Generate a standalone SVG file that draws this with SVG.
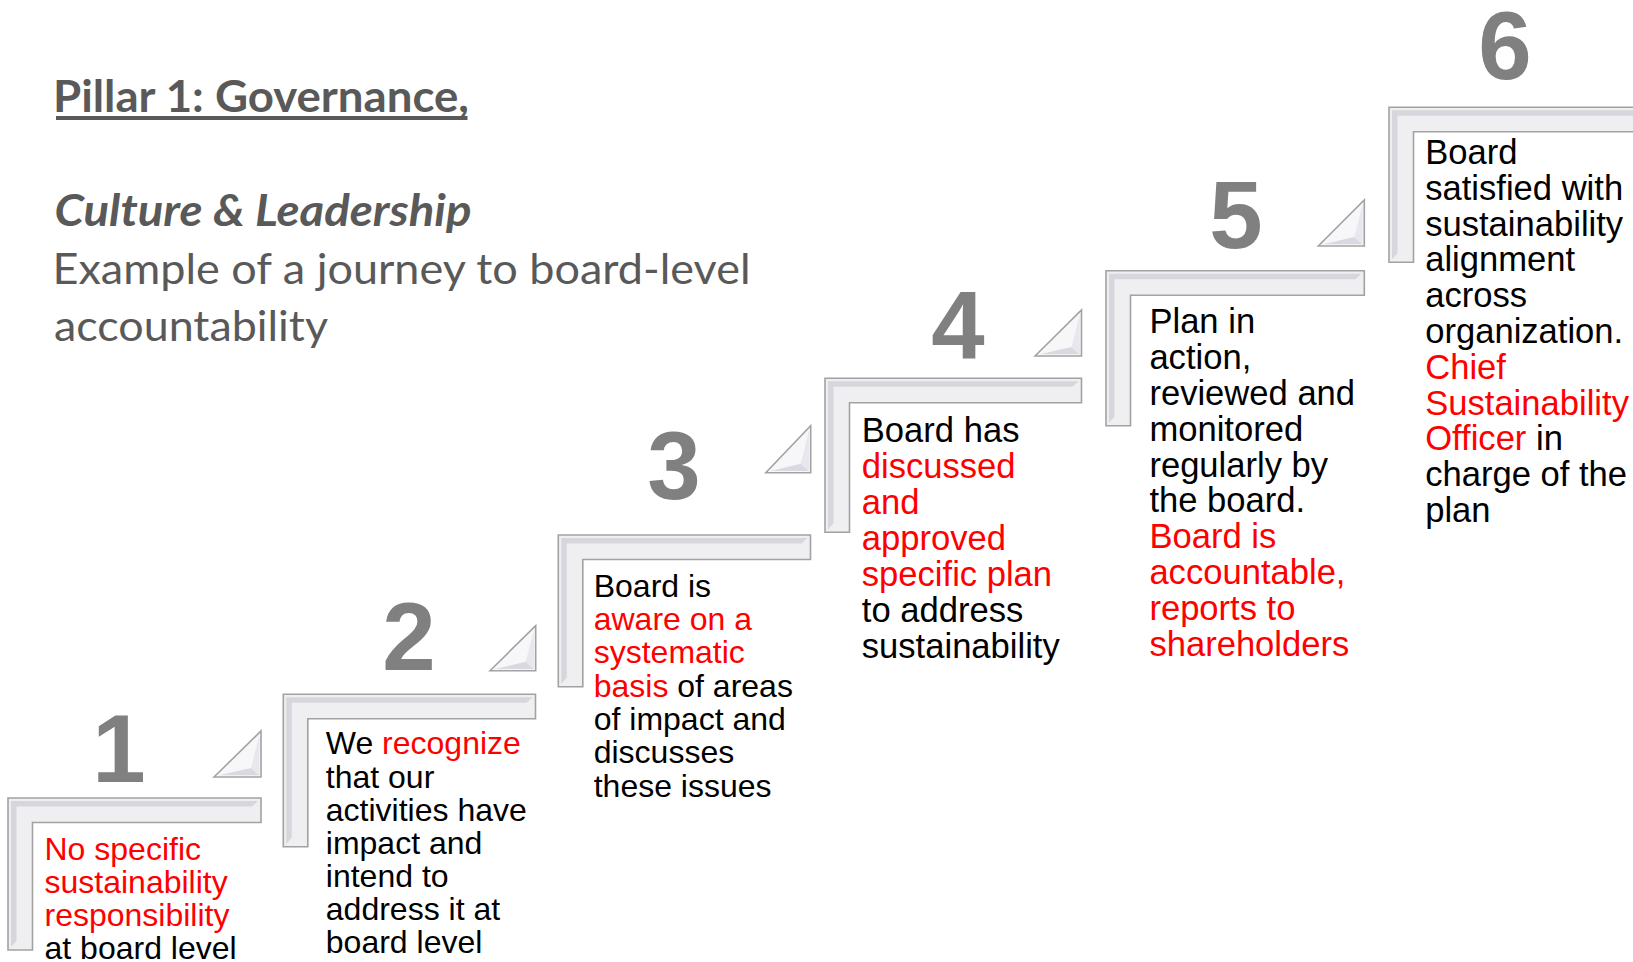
<svg xmlns="http://www.w3.org/2000/svg" width="1633" height="962" viewBox="0 0 1633 962">
<defs>
<style>
.frame{fill:#efeff2;stroke:#a2a2a2;stroke-width:1.6;stroke-linejoin:miter}
.band{fill:#d6d6dc}
.tri{fill:#f7f7f9;stroke:#a2a2a2;stroke-width:1.6;stroke-linejoin:miter}
.facetA{fill:#d9d9e1}
.facetB{fill:#e7e7ee}
.num{font-family:"Liberation Sans",Arial,sans-serif;font-weight:bold;font-size:96px;fill:#808080;text-anchor:middle}
.s{font-family:"Liberation Sans",Arial,sans-serif;font-size:32px;fill:#000}
.m{font-family:"Liberation Sans",Arial,sans-serif;font-size:34.6px;fill:#000}
.r{fill:#ff0000}
.title{font-family:Lato,"Open Sans",sans-serif;font-size:43px;fill:#595959}
</style>
</defs>
<rect width="1633" height="962" fill="#ffffff"/>

<g id="title">
<text class="title" x="53" y="111.7" font-weight="bold" textLength="416" lengthAdjust="spacingAndGlyphs">Pillar 1: Governance,</text>
<rect x="56" y="116" width="411.5" height="4" fill="#595959"/>
<text class="title" x="54.5" y="225.7" font-weight="bold" font-style="italic" textLength="417" lengthAdjust="spacingAndGlyphs">Culture &amp; Leadership</text>
<text class="title" x="52.5" y="283.5" textLength="698" lengthAdjust="spacingAndGlyphs">Example of a journey to board-level</text>
<text class="title" x="54" y="340.5" textLength="274" lengthAdjust="spacingAndGlyphs">accountability</text>
</g>

<g id="connectors"></g>

<g id="step1">
<path class="frame" d="M8 798 H261 V822.5 H32.5 V950 H8 Z"/>
<path class="band" d="M11 801 H258 L252 806.5 H16.5 V941 L11 947 Z"/>
<path class="tri" d="M214 777 L261 731 V777 Z"/>
<path class="facetA" d="M219 775.3 H259.3 L251 768 Z"/>
<path class="facetB" d="M259.3 735.5 V775.3 L251 768 Z"/>
<text class="num" x="119" y="782">1</text>
<text class="s" x="44.5"><tspan class="r" x="44.5" y="860">No specific</tspan><tspan class="r" x="44.5" y="893">sustainability</tspan><tspan class="r" x="44.5" y="926">responsibility</tspan><tspan x="44.5" y="959">at board level</tspan></text>
</g>

<g id="step2">
<path class="frame" d="M283.3 694.3 H535.5 V718.8 H307.8 V846.7 H283.3 Z"/>
<path class="band" d="M286.3 697.3 H532.5 L526.5 702.8 H291.8 V837.7 L286.3 843.7 Z"/>
<path class="tri" d="M490 670.7 L535.7 625.7 V670.7 Z"/>
<path class="facetA" d="M495 669 H534 L525.7 661.7 Z"/>
<path class="facetB" d="M534 630.2 V669 L525.7 661.7 Z"/>
<text class="num" x="409" y="670">2</text>
<text class="s" x="325.8"><tspan x="325.8" y="754.3">We <tspan class="r">recognize</tspan></tspan><tspan x="325.8" y="787.5">that our</tspan><tspan x="325.8" y="820.7">activities have</tspan><tspan x="325.8" y="853.8">impact and</tspan><tspan x="325.8" y="887">intend to</tspan><tspan x="325.8" y="920.2">address it at</tspan><tspan x="325.8" y="953.3">board level</tspan></text>
</g>

<g id="step3">
<path class="frame" d="M558.3 535 H810.5 V559.5 H582.8 V686.7 H558.3 Z"/>
<path class="band" d="M561.3 538 H807.5 L801.5 543.5 H566.8 V677.7 L561.3 683.7 Z"/>
<path class="tri" d="M765.7 472.7 L810.7 425.7 V472.7 Z"/>
<path class="facetA" d="M770.7 471 H809 L800.7 463.7 Z"/>
<path class="facetB" d="M809 430.2 V471 L800.7 463.7 Z"/>
<text class="num" x="674" y="499">3</text>
<text class="s" x="593.7"><tspan x="593.7" y="596.7">Board is</tspan><tspan class="r" x="593.7" y="630">aware on a</tspan><tspan class="r" x="593.7" y="663.3">systematic</tspan><tspan x="593.7" y="696.6"><tspan class="r">basis</tspan> of areas</tspan><tspan x="593.7" y="729.9">of impact and</tspan><tspan x="593.7" y="763.2">discusses</tspan><tspan x="593.7" y="796.5">these issues</tspan></text>
</g>

<g id="step4">
<path class="frame" d="M825 378.3 H1081.5 V402.8 H849.5 V532.3 H825 Z"/>
<path class="band" d="M828 381.3 H1078.5 L1072.5 386.8 H833.5 V523.3 L828 529.3 Z"/>
<path class="tri" d="M1035 356 L1081.5 310 V356 Z"/>
<path class="facetA" d="M1040 354.3 H1079.8 L1071.5 347 Z"/>
<path class="facetB" d="M1079.8 314.5 V354.3 L1071.5 347 Z"/>
<text class="num" x="958" y="359">4</text>
<text class="m" x="861.8"><tspan x="861.8" y="442.3">Board has</tspan><tspan class="r" x="861.8" y="478.2">discussed</tspan><tspan class="r" x="861.8" y="514.1">and</tspan><tspan class="r" x="861.8" y="550">approved</tspan><tspan class="r" x="861.8" y="585.9">specific plan</tspan><tspan x="861.8" y="621.8">to address</tspan><tspan x="861.8" y="657.7">sustainability</tspan></text>
</g>

<g id="step5">
<path class="frame" d="M1106 270.7 H1364.3 V295.2 H1130.5 V425.7 H1106 Z"/>
<path class="band" d="M1109 273.7 H1361.3 L1355.3 279.2 H1114.5 V416.7 L1109 422.7 Z"/>
<path class="tri" d="M1318.3 246 L1364.3 200 V246 Z"/>
<path class="facetA" d="M1323.3 244.3 H1362.6 L1354.3 237 Z"/>
<path class="facetB" d="M1362.6 204.5 V244.3 L1354.3 237 Z"/>
<text class="num" x="1236" y="248">5</text>
<text class="m" x="1149.4"><tspan x="1149.4" y="333.3">Plan in</tspan><tspan x="1149.4" y="369.1">action,</tspan><tspan x="1149.4" y="404.9">reviewed and</tspan><tspan x="1149.4" y="440.7">monitored</tspan><tspan x="1149.4" y="476.5">regularly by</tspan><tspan x="1149.4" y="512.3">the board.</tspan><tspan class="r" x="1149.4" y="548.1">Board is</tspan><tspan class="r" x="1149.4" y="583.9">accountable,</tspan><tspan class="r" x="1149.4" y="619.7">reports to</tspan><tspan class="r" x="1149.4" y="655.5">shareholders</tspan></text>
</g>

<g id="step6">
<path class="frame" d="M1389 107.3 H1640 V131.8 H1413.5 V262.3 H1389 Z"/>
<path class="band" d="M1392 110.3 H1640 V115.8 H1397.5 V253.3 L1392 259.3 Z"/>
<text class="num" x="1505" y="79">6</text>
<text class="m" x="1425.2"><tspan x="1425.2" y="164">Board</tspan><tspan x="1425.2" y="199.8">satisfied with</tspan><tspan x="1425.2" y="235.6">sustainability</tspan><tspan x="1425.2" y="271.4">alignment</tspan><tspan x="1425.2" y="307.2">across</tspan><tspan x="1425.2" y="343">organization.</tspan><tspan class="r" x="1425.2" y="378.8">Chief</tspan><tspan class="r" x="1425.2" y="414.6">Sustainability</tspan><tspan x="1425.2" y="450.4"><tspan class="r">Officer</tspan> in</tspan><tspan x="1425.2" y="486.2">charge of the</tspan><tspan x="1425.2" y="522">plan</tspan></text>
</g>
</svg>
